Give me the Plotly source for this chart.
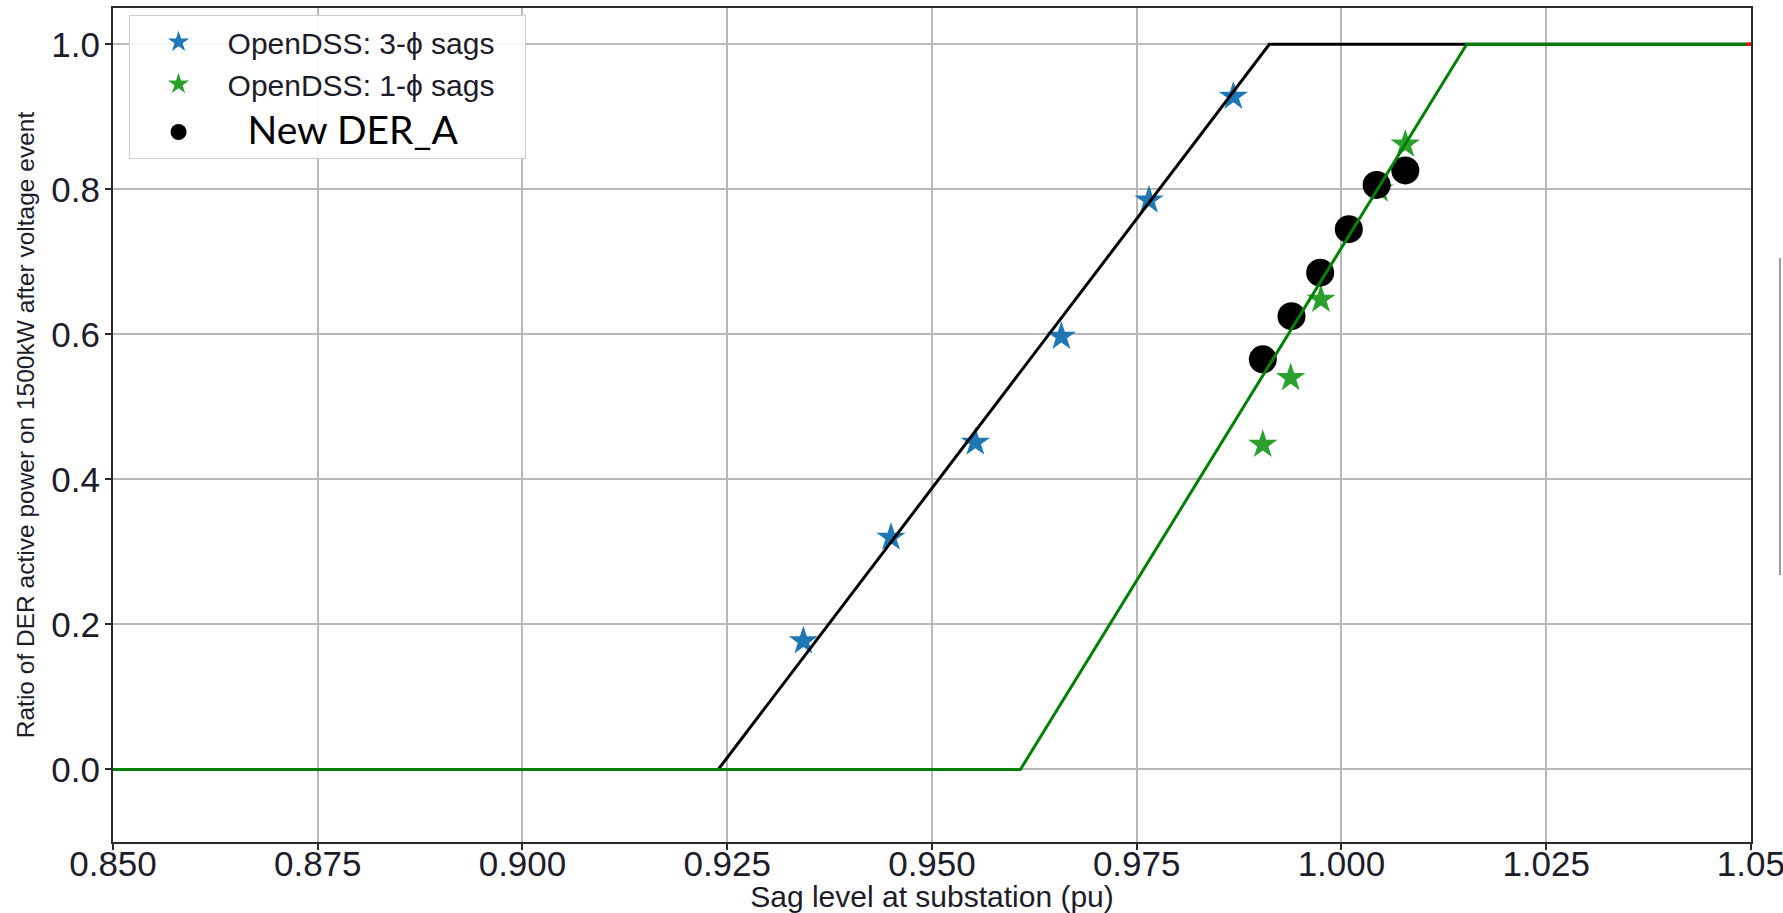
import plotly.graph_objects as go

# ---- data ----
three_phase_x = [0.9343, 0.9450, 0.9553, 0.9658, 0.9765, 0.9868]
three_phase_y = [0.177, 0.320, 0.451, 0.597, 0.785, 0.928]

one_phase_x = [0.9904, 0.9938, 0.9975, 1.0046, 1.0078]
one_phase_y = [0.448, 0.540, 0.648, 0.800, 0.862]

der_a_x = [0.9904, 0.9939, 0.9974, 1.0009, 1.0043, 1.0078]
der_a_y = [0.5655, 0.625, 0.685, 0.745, 0.806, 0.826]

black_line_x = [0.85, 0.9239, 0.9912, 1.05]
black_line_y = [0.0, 0.0, 1.0, 1.0]

green_line_x = [0.85, 0.9608, 1.0153, 1.05]
green_line_y = [0.0, 0.0, 1.0, 1.0]

red_line_x = [1.0494, 1.05]
red_line_y = [1.0, 1.0]

x_ticks = [0.850, 0.875, 0.900, 0.925, 0.950, 0.975, 1.000, 1.025, 1.05]
x_tick_text = ["0.850", "0.875", "0.900", "0.925", "0.950", "0.975", "1.000", "1.025", "1.05"]
y_ticks = [0.0, 0.2, 0.4, 0.6, 0.8, 1.0]
y_tick_text = ["0.0", "0.2", "0.4", "0.6", "0.8", "1.0"]

TXT = "#1c1c2a"

fig = go.Figure()

fig.add_trace(go.Scatter(
    x=three_phase_x, y=three_phase_y, mode="markers",
    name="OpenDSS: 3-\u03d5 sags&nbsp;&nbsp;&nbsp;", legendgroup="a",
    marker=dict(symbol="star", size=22, color="#1f77b4", line=dict(width=0)),
))
fig.add_trace(go.Scatter(
    x=one_phase_x, y=one_phase_y, mode="markers",
    name="OpenDSS: 1-\u03d5 sags", legendgroup="a",
    marker=dict(symbol="star", size=22, color="#2ca02c", line=dict(width=0)),
))
fig.add_trace(go.Scatter(
    x=der_a_x, y=der_a_y, mode="markers", legendgroup="b",
    name="<span style='font-family:Lato, Open Sans, sans-serif;font-size:39px;color:#000'>&nbsp;&nbsp;New DER_A</span>",
    marker=dict(symbol="circle", size=28, color="#000000", line=dict(width=0)),
))
fig.add_trace(go.Scatter(
    x=black_line_x, y=black_line_y, mode="lines", showlegend=False,
    line=dict(color="#000000", width=3),
))
fig.add_trace(go.Scatter(
    x=green_line_x, y=green_line_y, mode="lines", showlegend=False,
    line=dict(color="#008000", width=3),
))
fig.add_trace(go.Scatter(
    x=red_line_x, y=red_line_y, mode="lines", showlegend=False,
    line=dict(color="#ff0000", width=3),
))

axis_common = dict(
    showgrid=True, gridcolor="#b8b8b8", gridwidth=1.5,
    showline=True, linecolor="#2a2a2a", linewidth=2, mirror=True,
    ticks="outside", ticklen=6, tickwidth=1.5, tickcolor="#2a2a2a",
    zeroline=False, automargin=False, ticklabeloverflow="allow",
)

fig.update_layout(
    width=1783, height=913,
    margin=dict(l=113, r=32, t=8, b=71),
    paper_bgcolor="white", plot_bgcolor="white",
    font=dict(family="Liberation Sans, Arial, sans-serif", color=TXT),
    xaxis=dict(
        range=[0.85, 1.05001], tickvals=x_ticks, ticktext=x_tick_text,
        tickfont=dict(size=35, color=TXT), ticklabelstandoff=-16,
        title=dict(text="Sag level at substation (pu)", font=dict(size=30, color=TXT), standoff=5),
        **axis_common,
    ),
    yaxis=dict(
        range=[-0.1, 1.05], tickvals=y_ticks, ticktext=y_tick_text,
        tickfont=dict(size=35, color=TXT), ticklabelstandoff=-2,
        title=dict(text="Ratio of DER active power on 1500kW after voltage event",
                   font=dict(size=24.5, color=TXT), standoff=10),
        **axis_common,
    ),
    legend=dict(
        x=0.0095, y=0.9916, xanchor="left", yanchor="top",
        bgcolor="rgba(255,255,255,0.9)", bordercolor="#cccccc", borderwidth=1,
        font=dict(size=30, color=TXT), itemwidth=88,
        traceorder="grouped", tracegroupgap=6,
    ),
    showlegend=True,
    shapes=[dict(type="line", xref="paper", yref="paper",
                 x0=1.0177, x1=1.0177, y0=0.70, y1=0.32,
                 line=dict(color="#9a9a9a", width=2))],
)

fig.write_html(
    "out.html",
    config={"displayModeBar": False},
    post_script="document.body.style.margin='0';document.body.style.overflow='hidden';",
)
